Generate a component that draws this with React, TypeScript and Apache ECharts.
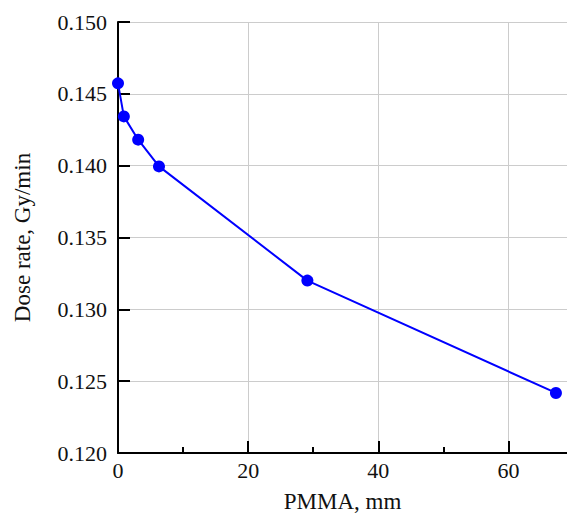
import React, { useEffect, useRef } from "react";
import * as echarts from "echarts";

const pmma = [0, 0.9, 3.1, 6.3, 29.1, 67.3];
const doseRate = [0.14573, 0.14343, 0.14181, 0.13995, 0.1320, 0.12418];
const xTickLabels = ["0", "20", "40", "60"];
const yTickLabels = ["0.120", "0.125", "0.130", "0.135", "0.140", "0.145", "0.150"];

export default function App() {
  const ref = useRef<HTMLDivElement>(null);
  useEffect(() => {
    if (!ref.current) return;
    const chart = echarts.init(ref.current, null, { renderer: "svg" });
    const font = "'Liberation Serif', 'DejaVu Serif', serif";
    chart.setOption({
      animation: false,
      grid: { left: 118, top: 22, right: 0, bottom: 62, containLabel: false, outerBoundsMode: "none" },
      xAxis: {
        type: "value",
        min: 0,
        max: 69,
        interval: 20,
        name: "PMMA, mm",
        nameLocation: "middle",
        nameGap: 37,
        nameTextStyle: { fontFamily: font, fontSize: 23, color: "#111" },
        axisLine: { show: true, onZero: false, lineStyle: { color: "#000", width: 2 } },
        axisTick: { show: true, inside: true, length: 12, lineStyle: { color: "#000", width: 2 }, customValues: [0, 20, 40, 60] },
        minorTick: { show: true, splitNumber: 2, length: 6, lineStyle: { color: "#000", width: 2 } },
        axisLabel: {
          fontFamily: font,
          fontSize: 22,
          color: "#111",
          margin: 6,
          customValues: [0, 20, 40, 60],
          formatter: (v: number) => (xTickLabels.includes(String(v)) ? String(v) : ""),
        },
        splitLine: { show: true, lineStyle: { color: "#cccccc", width: 1 } },
      },
      yAxis: {
        type: "value",
        min: 0.12,
        max: 0.15,
        interval: 0.005,
        name: "Dose rate, Gy/min",
        nameLocation: "middle",
        nameGap: 84,
        nameTextStyle: { fontFamily: font, fontSize: 23, color: "#111" },
        axisLine: { show: true, lineStyle: { color: "#000", width: 2 } },
        axisTick: { show: true, inside: true, length: 12, lineStyle: { color: "#000", width: 2 } },
        axisLabel: {
          fontFamily: font,
          fontSize: 22,
          color: "#111",
          margin: 11,
          formatter: (v: number) => {
            const s = v.toFixed(3);
            return yTickLabels.includes(s) ? s : "";
          },
        },
        splitLine: { show: true, lineStyle: { color: "#cccccc", width: 1 } },
      },
      series: [
        {
          type: "line",
          data: pmma.map((x, i) => [x, doseRate[i]]),
          symbol: "circle",
          symbolSize: 12,
          itemStyle: { color: "#0000ff" },
          lineStyle: { color: "#0000ff", width: 2 },
          clip: false,
        },
      ],
    });
    return () => chart.dispose();
  }, []);
  return <div ref={ref} style={{ width: 567, height: 515, position: "absolute", left: 0, top: 0 }} />;
}
